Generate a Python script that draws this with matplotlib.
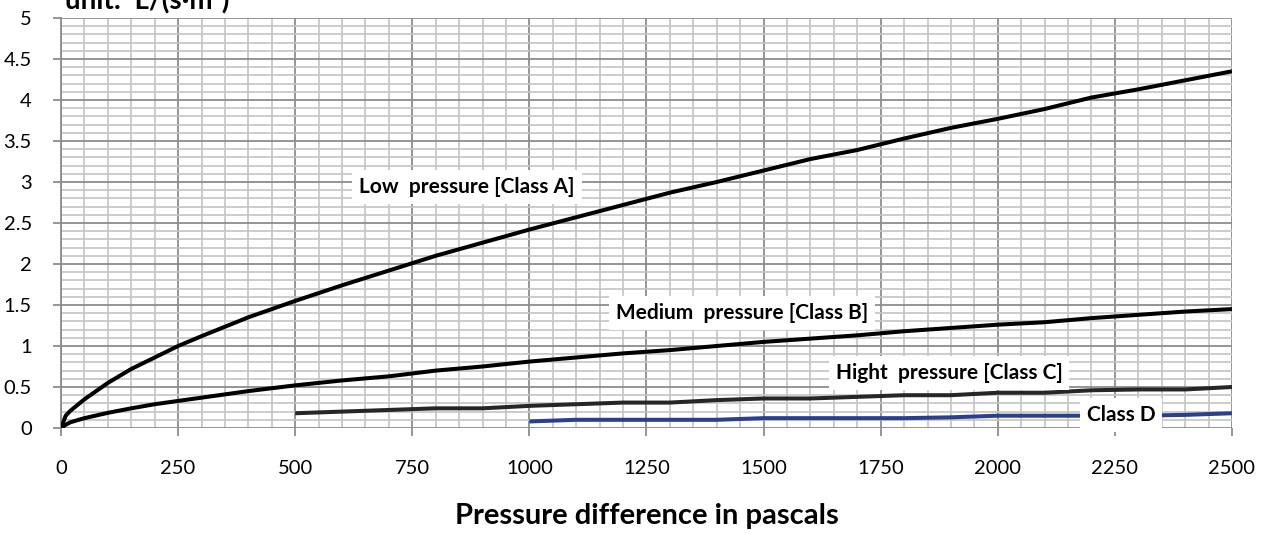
import numpy as np
import matplotlib.pyplot as plt
from matplotlib.ticker import MultipleLocator

plt.rcParams['font.family'] = ['Lato', 'DejaVu Sans']

# air permeability curves
x_a = [0, 10, 20, 50, 100, 150, 200, 250, 300, 400, 500, 600, 700, 800, 900, 1000,
       1100, 1200, 1300, 1400, 1500, 1600, 1700, 1800, 1900, 2000, 2100, 2200, 2300, 2400, 2500]
class_a = [0, 0.15, 0.21, 0.35, 0.55, 0.72, 0.86, 1.0, 1.12, 1.35, 1.55, 1.74, 1.92, 2.10, 2.26, 2.42,
           2.57, 2.72, 2.87, 3.00, 3.14, 3.28, 3.39, 3.53, 3.66, 3.77, 3.89, 4.03, 4.13, 4.24, 4.35]
class_b = [0, 0.04, 0.07, 0.12, 0.185, 0.24, 0.29, 0.33, 0.37, 0.45, 0.52, 0.58, 0.63, 0.70, 0.75, 0.81,
           0.86, 0.91, 0.95, 1.00, 1.05, 1.09, 1.13, 1.18, 1.22, 1.26, 1.29, 1.34, 1.38, 1.42, 1.45]

x_c = [500, 600, 700, 800, 900, 1000, 1100, 1200, 1300, 1400, 1500, 1600, 1700,
       1800, 1900, 2000, 2100, 2200, 2300, 2400, 2500]
class_c = [0.18, 0.20, 0.22, 0.24, 0.24, 0.27, 0.29, 0.31, 0.31, 0.34, 0.36, 0.36, 0.38,
           0.40, 0.40, 0.43, 0.43, 0.46, 0.47, 0.47, 0.50]

x_d = [1000, 1100, 1200, 1300, 1400, 1500, 1600, 1700, 1800, 1900, 2000, 2100, 2200, 2300, 2400, 2500]
class_d = [0.08, 0.10, 0.10, 0.10, 0.10, 0.12, 0.12, 0.12, 0.12, 0.13, 0.15, 0.15, 0.15, 0.15, 0.16, 0.18]

labels = ['Low  pressure [Class A]', 'Medium  pressure [Class B]',
          'Hight  pressure [Class C]', 'Class D']
label_pos = [(867, 2.94), (1454, 1.40), (1896, 0.67), (2263, 0.16)]

fig = plt.figure(figsize=(12.66, 5.34), dpi=100)
ax = fig.add_axes([0.0482, 0.1985, 0.9249, 0.7678])

ax.plot(x_a, class_a, color='#000000', lw=2.9, solid_capstyle='butt', zorder=3)
ax.plot(x_a, class_b, color='#000000', lw=2.9, solid_capstyle='butt', zorder=3)
ax.plot(x_c, class_c, color='#262626', lw=2.9, solid_capstyle='butt', zorder=3)
ax.plot(x_d, class_d, color='#2b3f8e', lw=2.9, solid_capstyle='butt', zorder=3)

for text, (tx, ty) in zip(labels, label_pos):
    ax.text(tx, ty, text, ha='center', va='center', fontsize=15, fontweight='bold',
            bbox=dict(facecolor='white', edgecolor='none', pad=5), zorder=4)

ax.set_xlim(0, 2500)
ax.set_ylim(0, 5)
ax.xaxis.set_major_locator(MultipleLocator(250))
ax.xaxis.set_minor_locator(MultipleLocator(50))
ax.yaxis.set_major_locator(MultipleLocator(0.5))
ax.yaxis.set_minor_locator(MultipleLocator(0.1))
ax.set_yticklabels([('%g' % v) for v in ax.get_yticks()])

ax.grid(which='major', color='#8c8c8c', lw=1.3)
ax.grid(which='minor', color='#c4c4c4', lw=1.2)
ax.set_axisbelow(True)
for s in ax.spines.values():
    s.set_visible(False)
ax.spines['left'].set_visible(True)
ax.spines['left'].set_color('#8c8c8c')
ax.spines['left'].set_linewidth(1.3)

ax.tick_params(which='major', length=6, width=1.3, color='#8c8c8c', labelsize=14.5)
ax.tick_params(axis='x', which='major', pad=17)
ax.tick_params(axis='y', which='major', pad=15)
ax.tick_params(which='minor', length=0)

ax.set_xlabel('Pressure difference in pascals', fontsize=21, fontweight='bold', labelpad=19)
fig.text(0.051, 0.985, 'unit:  L/(s·m²)', fontsize=20, fontweight='bold', va='baseline')

fig.savefig('out.png', dpi=100)
